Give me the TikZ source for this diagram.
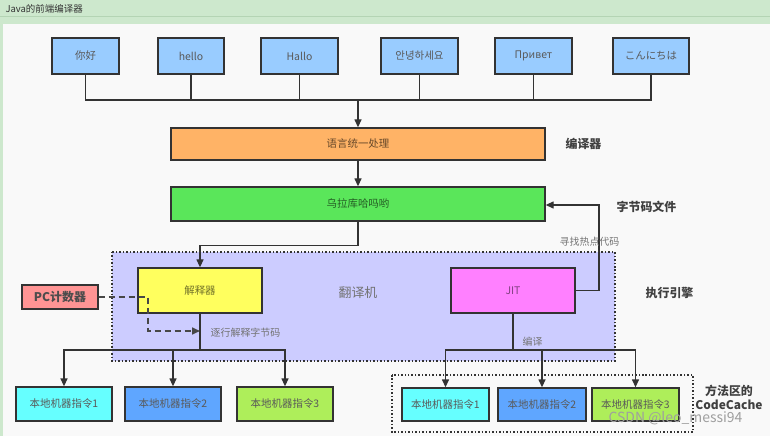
\documentclass[tikz,border=0pt]{standalone}
\usepackage{fontspec}
\setmainfont{Noto Sans CJK SC}
\usetikzlibrary{arrows.meta, positioning}
\definecolor{framegreen}{HTML}{CDE8CD}
\definecolor{framegreenline}{HTML}{B4D4B4}
\definecolor{canvasgray}{HTML}{F9F9F9}
\definecolor{linegray}{HTML}{333333}
\definecolor{topblue}{HTML}{99CCFF}
\definecolor{unifyorange}{HTML}{FFB366}
\definecolor{codegreen}{HTML}{5AE65A}
\definecolor{regionlilac}{HTML}{CCCCFF}
\definecolor{interpyellow}{HTML}{FFFF5E}
\definecolor{jitpink}{HTML}{FF80FF}
\definecolor{pcsalmon}{HTML}{FF9494}
\definecolor{nativecyan}{HTML}{66FFFF}
\definecolor{nativeblue}{HTML}{5FA6FF}
\definecolor{nativelime}{HTML}{AEEE5A}

\begin{document}
\begin{tikzpicture}[x=1bp, y=-1bp,
    every node/.style={font=\fontsize{10.5}{12}\selectfont},
    box/.style={draw=linegray, line width=1.3bp, inner sep=0pt, text=black!65},
    wire/.style={draw=linegray, line width=1.3bp},
    arr/.style={wire, -{Triangle[length=8bp, width=7bp]}},
    tag/.style={font=\fontsize{12}{14}\selectfont\bfseries, text=black!75},
    note/.style={font=\fontsize{10}{12}\selectfont, text=black!55}]
  \useasboundingbox (0,0) rectangle (770,436);

  % window frame
  \fill[framegreen] (0,0) rectangle (770,24);
  \draw[framegreenline, line width=1bp] (0,17) -- (770,17);
  \fill[framegreen] (0,24) rectangle (3,436);
  \fill[canvasgray] (3,24) rectangle (770,436);
  \node[anchor=west, font=\fontsize{9.5}{11}\selectfont, text=black!80] (title) at (2,9) {Java的前端编译器};

  % SOURCE TEXTS
  \node[box, fill=topblue, minimum width=67bp, minimum height=36bp] (nihao) at (85.5,56) {你好};
  \node[box, fill=topblue, minimum width=66bp, minimum height=36bp] (hello) at (191,56) {hello};
  \node[box, fill=topblue, minimum width=77bp, minimum height=36bp] (hallo) at (299.5,56) {Hallo};
  \node[box, fill=topblue, minimum width=77bp, minimum height=36bp] (annyeong) at (419.5,56) {안녕하세요};
  \node[box, fill=topblue, minimum width=77bp, minimum height=36bp] (privet) at (533.5,56) {Привет};
  \node[box, fill=topblue, minimum width=76bp, minimum height=36bp] (konnichiwa) at (651,56) {こんにちは};
  \coordinate (topbus) at (358,100);
  \draw[wire] (nihao.south) |- (topbus);
  \draw[wire] (konnichiwa.south) |- (topbus);
  \draw[wire] (hello.south) -- (hello.south |- topbus);
  \draw[wire] (hallo.south) -- (hallo.south |- topbus);
  \draw[wire] (annyeong.south) -- (annyeong.south |- topbus);
  \draw[wire] (privet.south) -- (privet.south |- topbus);

  % COMPILER
  \node[box, fill=unifyorange, text=unifyorange!40!black, minimum width=374bp, minimum height=32bp] (unify) at (358,144) {语言统一处理};
  \node[tag] (compilertag) at (583.5,144) {编译器};
  \draw[arr] (topbus) -- (unify.north);

  % BYTECODE
  \node[box, fill=codegreen, text=codegreen!40!black, minimum width=374bp, minimum height=34bp] (bytecode) at (358,204) {乌拉库哈吗哟};
  \node[tag] (bytecodetag) at (646.5,207) {字节码文件};
  \draw[arr] (unify.south) -- (bytecode.north);

  % EXECUTION ENGINE
  \draw[linegray, line width=1.5bp, dotted, fill=regionlilac] (112,252) rectangle (615,361);
  \node[font=\fontsize{13}{15}\selectfont, text=black!55] (translator) at (358,293) {翻译机};
  \node[tag] (enginetag) at (669.5,293) {执行引擎};
  \node[box, fill=interpyellow, text=interpyellow!45!black, minimum width=124bp, minimum height=45bp] (interp) at (200,290.5) {解释器};
  \node[box, fill=jitpink, text=jitpink!50!black, minimum width=124bp, minimum height=45bp] (jit) at (513,290.5) {JIT};
  \node[box, fill=pcsalmon, text=black!70, font=\fontsize{12}{14}\selectfont\bfseries, minimum width=76bp, minimum height=24bp] (pc) at (60,297) {PC计数器};
  \draw[arr] (bytecode.south) -- ++(0,24) -| (interp.north);
  \coordinate (hot) at (599,205);
  \draw[arr] (jit.east) -| (hot) -- (bytecode.east |- hot);
  \node[note] (hotnote) at (589.5,242) {寻找热点代码};
  \coordinate (pcbend) at (148,331);
  \draw[linegray!90, line width=1.6bp, dash pattern=on 6bp off 4bp, -{Triangle[length=8bp, width=7bp]}] (pc.east) -| (pcbend) -- (pcbend -| interp.south);
  \node[note] (stepnote) at (245.5,333) {逐行解释字节码};
  \node[note] (jitnote) at (532.5,342) {编译};

  % NATIVE CODE (interpreter)
  \node[box, fill=nativecyan, minimum width=96bp, minimum height=34bp] (mc1) at (64,404) {本地机器指令1};
  \node[box, fill=nativeblue, minimum width=96bp, minimum height=34bp] (mc2) at (173,404) {本地机器指令2};
  \node[box, fill=nativelime, minimum width=96bp, minimum height=34bp] (mc3) at (285,404) {本地机器指令3};
  \coordinate (lbus) at (200,350);
  \draw[wire] (interp.south) -- (lbus);
  \draw[arr] (lbus) -| (mc1.north);
  \draw[arr] (lbus) -| (mc3.north);
  \draw[arr] (mc2.north |- lbus) -- (mc2.north);

  % CODE CACHE (JIT)
  \draw[linegray, line width=1.5bp, dotted] (392,375) rectangle (693,432);
  \node[box, fill=nativecyan, minimum width=87bp, minimum height=33bp] (rc1) at (445.5,404.5) {本地机器指令1};
  \node[box, fill=nativeblue, minimum width=88bp, minimum height=33bp] (rc2) at (542,404.5) {本地机器指令2};
  \node[box, fill=nativelime, minimum width=87bp, minimum height=33bp] (rc3) at (635.5,404.5) {本地机器指令3};
  \node[tag, align=center, font=\fontsize{12}{14}\selectfont\bfseries] (cachetag) at (729,397) {方法区的\\CodeCache};
  \coordinate (rbus) at (513,350);
  \draw[wire] (jit.south) -- (rbus);
  \draw[arr] (rbus) -| (rc1.north);
  \draw[arr] (rbus) -| (rc3.north);
  \draw[arr] (rc2.north |- rbus) -- (rc2.north);

  \node[font=\fontsize{14}{16}\selectfont, text=gray!75] (mark) at (675.5,418) {CSDN @leo\_messi94};
\end{tikzpicture}
\end{document}
